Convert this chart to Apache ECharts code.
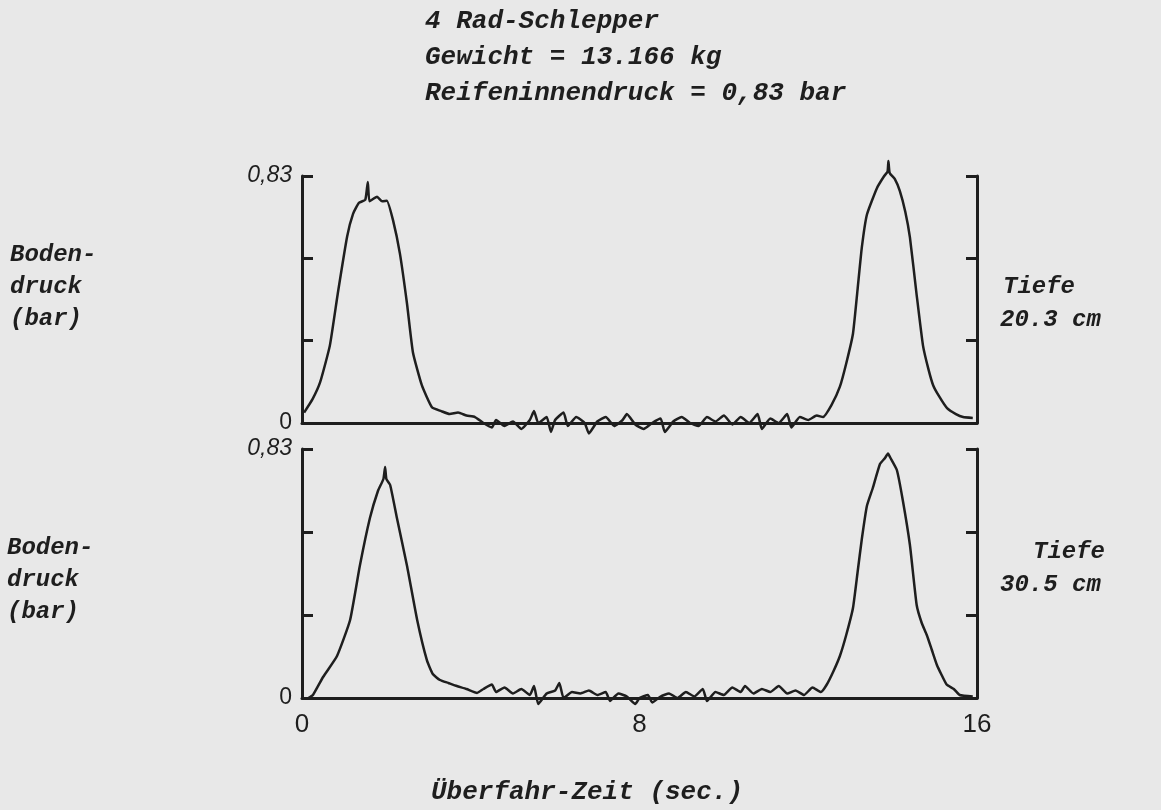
<!DOCTYPE html>
<html>
<head>
<meta charset="utf-8">
<title>Bodendruck 4 Rad-Schlepper</title>
<script src="https://cdn.jsdelivr.net/npm/echarts/dist/echarts.min.js"></script>
<style>
  html, body { margin: 0; padding: 0; background: #e8e8e8; }
  #chart { width: 1161px; height: 810px; }
</style>
</head>
<body>
<div id="chart"></div>
<script>
// Tiefe 20.3 cm : time (sec.) and soil pressure (bar)
var topTime = [0.05, 0.25, 0.43, 0.66, 0.85, 1.07, 1.21, 1.35, 1.5, 1.56, 1.6, 1.78, 1.9, 2.01, 2.16, 2.32, 2.49, 2.63, 2.84, 3.08, 3.3, 3.5, 3.7,
  3.9, 4.1, 4.3, 4.5, 4.6, 4.8, 5.0, 5.2, 5.4, 5.5, 5.6, 5.8, 5.9, 6.0, 6.2, 6.3, 6.5, 6.7, 6.8, 7.0, 7.2, 7.4, 7.6, 7.7, 7.9,
  8.1, 8.3, 8.5, 8.6, 8.8, 9.0, 9.2, 9.4, 9.6, 9.8, 10.0, 10.2, 10.4, 10.6, 10.8, 10.9, 11.1, 11.3, 11.5, 11.6, 11.8, 12.0, 12.2,
  12.35, 12.55, 12.75, 12.9, 13.06, 13.17, 13.27, 13.39, 13.63, 13.8, 13.88, 13.9, 13.93, 14.05, 14.17, 14.3, 14.41, 14.57, 14.72,
  14.85, 14.96, 15.1, 15.29, 15.5, 15.67, 15.9];
var topPressure = [0.035, 0.08, 0.137, 0.26, 0.437, 0.627, 0.703, 0.74, 0.75, 0.81, 0.745, 0.76, 0.745, 0.747, 0.68, 0.57, 0.40, 0.237, 0.127, 0.053, 0.04, 0.03, 0.035,
  0.025, 0.02, 0.0, -0.015, 0.01, -0.01, 0.005, -0.02, 0.01, 0.04, 0.0, 0.02, -0.03, 0.01, 0.035, -0.01, 0.02, 0.0, -0.035, 0.005, 0.02, -0.01, 0.01, 0.03, -0.005,
  -0.02, 0.0, 0.015, -0.03, 0.005, 0.02, 0.0, -0.01, 0.02, 0.005, 0.025, -0.005, 0.02, 0.0, 0.03, -0.02, 0.015, 0.0, 0.03, -0.015, 0.02, 0.01, 0.025,
  0.02, 0.06, 0.122, 0.2, 0.30, 0.45, 0.59, 0.70, 0.79, 0.83, 0.845, 0.88, 0.84, 0.82, 0.78, 0.71, 0.624, 0.43, 0.26,
  0.18, 0.127, 0.09, 0.05, 0.03, 0.02, 0.017];

// Tiefe 30.5 cm
var botTime = [0.15, 0.26, 0.5, 0.83, 1.14, 1.37, 1.61, 1.8, 1.93, 1.97, 2.0, 2.09, 2.25, 2.49, 2.73, 2.96, 3.1, 3.27, 3.47, 3.67, 3.9, 4.15,
  4.3, 4.5, 4.6, 4.8, 5.0, 5.2, 5.4, 5.5, 5.6, 5.8, 6.0, 6.1, 6.2, 6.4, 6.6, 6.8, 7.0, 7.2, 7.3, 7.5, 7.7, 7.9, 8.0, 8.2, 8.3,
  8.5, 8.7, 8.9, 9.1, 9.3, 9.5, 9.6, 9.8, 10.0, 10.2, 10.4, 10.5, 10.7, 10.9, 11.1, 11.3, 11.5, 11.7, 11.9, 12.1, 12.3,
  12.44, 12.6, 12.75, 12.9, 13.06, 13.17, 13.27, 13.39, 13.53, 13.7, 13.82, 13.89, 13.95, 14.1, 14.24, 14.41, 14.57, 14.69, 14.81,
  14.93, 15.05, 15.15, 15.28, 15.45, 15.59, 15.9];
var botPressure = [0.0, 0.01, 0.07, 0.14, 0.26, 0.44, 0.60, 0.69, 0.73, 0.77, 0.73, 0.71, 0.60, 0.44, 0.26, 0.126, 0.08, 0.06, 0.05, 0.04, 0.03, 0.017,
  0.03, 0.045, 0.02, 0.035, 0.015, 0.03, 0.01, 0.04, -0.02, 0.015, 0.025, 0.05, 0.0, 0.02, 0.015, 0.025, 0.01, 0.02, -0.01, 0.015, 0.005, -0.02, 0.0, 0.01, -0.015,
  0.005, 0.015, 0.0, 0.02, 0.005, 0.03, -0.01, 0.02, 0.01, 0.035, 0.02, 0.04, 0.015, 0.03, 0.02, 0.04, 0.015, 0.025, 0.01, 0.035, 0.02,
  0.045, 0.09, 0.14, 0.21, 0.30, 0.42, 0.53, 0.64, 0.70, 0.78, 0.80, 0.815, 0.80, 0.76, 0.66, 0.51, 0.31, 0.25, 0.21,
  0.16, 0.11, 0.08, 0.045, 0.03, 0.01, 0.005];

var xTicks = [0, 8, 16];
var pMax = 0.83;
var titleLines = ['4 Rad-Schlepper', 'Gewicht = 13.166 kg', 'Reifeninnendruck = 0,83 bar'];
var yLabelLines = ['Boden-', 'druck', '(bar)'];
var depthLabels = [['Tiefe', '20.3 cm'], ['Tiefe', '30.5 cm']];
var xName = 'Überfahr-Zeit (sec.)';

function pairs(t, p) { return t.map(function (v, i) { return [v, p[i]]; }); }

var ink = '#1e1e1e';
var mono = '"Liberation Mono", "DejaVu Sans Mono", monospace';
var sideFont = 'italic bold 24px ' + mono;
var bigFont = 'italic bold 26px ' + mono;

var chart = echarts.init(document.getElementById('chart'));

function xAxisFor(g, labels) {
  return {
    type: 'value', gridIndex: g, min: 0, max: 16, interval: 8,
    axisLine: { show: true, onZero: false, lineStyle: { color: ink, width: 3 } },
    axisTick: { show: false },
    splitLine: { show: false },
    axisLabel: {
      show: labels, margin: 14, color: ink, fontSize: 26,
      fontFamily: '"Liberation Sans", Arial, sans-serif',
      formatter: function (v) { return xTicks.indexOf(v) >= 0 ? String(v) : ''; }
    }
  };
}
function yAxisFor(g, pos) {
  return {
    type: 'value', gridIndex: g, position: pos, min: 0, max: pMax, interval: pMax / 3,
    axisLine: { show: true, lineStyle: { color: ink, width: 3 } },
    axisTick: { show: true, inside: true, length: 11, lineStyle: { color: ink, width: 3 } },
    splitLine: { show: false },
    axisLabel: {
      show: pos === 'left', margin: 10, color: ink, fontSize: 23,
      fontFamily: '"Liberation Sans", Arial, sans-serif',
      formatter: function (v) {
        if (v === 0) return '0';
        if (v > 0.8) return '{i|0,83}';
        return '';
      },
      rich: { i: { fontStyle: 'italic', fontSize: 23, color: ink, fontFamily: '"Liberation Sans", Arial, sans-serif' } }
    }
  };
}

var graphics = [];
titleLines.forEach(function (s, i) {
  graphics.push({ type: 'text', x: 425, y: 21 + i * 36,
    style: { text: s, font: bigFont, fill: ink, verticalAlign: 'middle' } });
});
[[10, 255], [7, 548]].forEach(function (pos) {
  yLabelLines.forEach(function (s, i) {
    graphics.push({ type: 'text', x: pos[0], y: pos[1] + i * 32,
      style: { text: s, font: sideFont, fill: ink, verticalAlign: 'middle' } });
  });
});
[[1003, 287], [1033, 552]].forEach(function (pos, k) {
  graphics.push({ type: 'text', x: pos[0], y: pos[1],
    style: { text: depthLabels[k][0], font: sideFont, fill: ink, verticalAlign: 'middle' } });
  graphics.push({ type: 'text', x: 1000, y: pos[1] + 33,
    style: { text: depthLabels[k][1], font: sideFont, fill: ink, verticalAlign: 'middle' } });
});
graphics.push({ type: 'text', x: 587, y: 792,
  style: { text: xName, font: bigFont, fill: ink, align: 'center', verticalAlign: 'middle' } });

var option = {
  backgroundColor: '#e8e8e8',
  animation: false,
  grid: [
    { left: 302, width: 675, top: 176, height: 247 },
    { left: 302, width: 675, top: 449, height: 249 }
  ],
  xAxis: [xAxisFor(0, false), xAxisFor(1, true)],
  yAxis: [yAxisFor(0, 'left'), yAxisFor(0, 'right'), yAxisFor(1, 'left'), yAxisFor(1, 'right')],
  graphic: graphics,
  series: [
    { name: 'Tiefe 20.3 cm', type: 'line', xAxisIndex: 0, yAxisIndex: 0, data: pairs(topTime, topPressure),
      showSymbol: false, clip: false, smooth: 0.15, lineStyle: { color: '#1e1e1e', width: 2.5 } },
    { name: 'Tiefe 30.5 cm', type: 'line', xAxisIndex: 1, yAxisIndex: 2, data: pairs(botTime, botPressure),
      showSymbol: false, clip: false, smooth: 0.15, lineStyle: { color: '#1e1e1e', width: 2.5 } }
  ]
};
chart.setOption(option);
</script>
</body>
</html>
